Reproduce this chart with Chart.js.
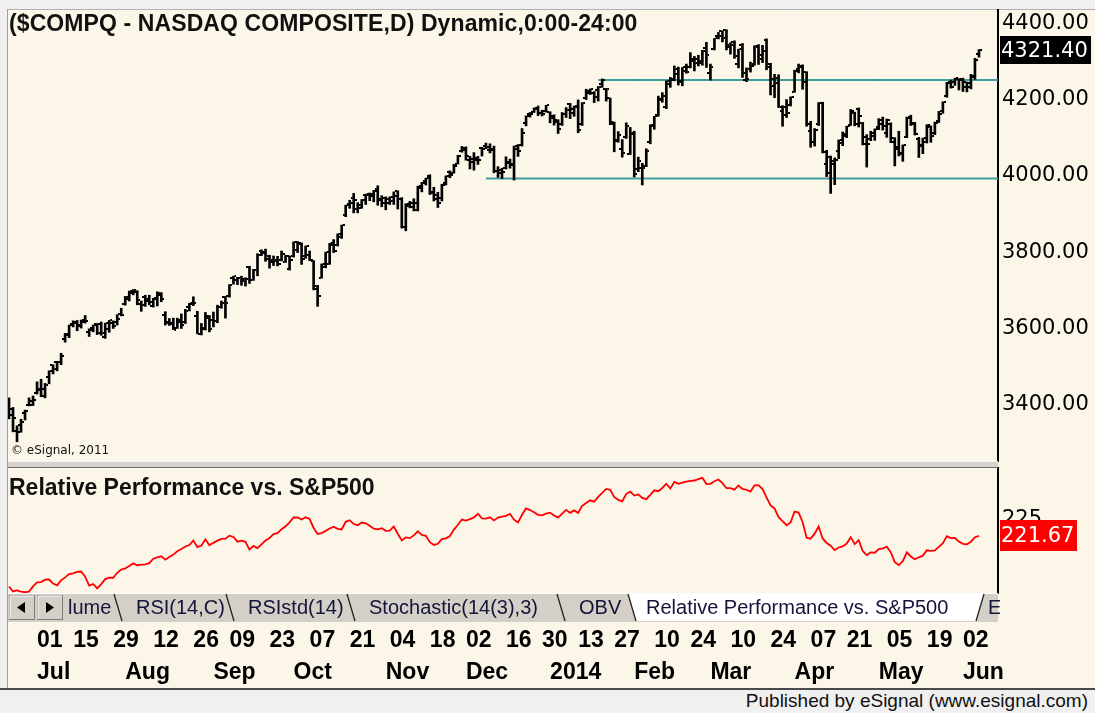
<!DOCTYPE html>
<html>
<head>
<meta charset="utf-8">
<title>$COMPQ - NASDAQ COMPOSITE</title>
<script src="https://cdn.jsdelivr.net/npm/chart.js@4.4.1/dist/chart.umd.min.js"></script>
<style>
  html, body { margin:0; padding:0; background:#f0f0f0; }
  #wrap { position:relative; width:1095px; height:713px; overflow:hidden; background:#f0f0f0; }
  .abs { position:absolute; }
  #cream { background:#fcf6e9; border-left:1px solid #a0a0a0; border-top:1px solid #b0b0b0; box-sizing:border-box; left:7px; top:9px; width:1088px; height:679px; }
  #title { left:9px; top:12px; font:bold 23px "Liberation Sans", Arial, sans-serif; color:#111; white-space:nowrap; line-height:23px; letter-spacing:0.1px; }
  #rptitle { left:9px; top:476px; font:bold 23px "Liberation Sans", Arial, sans-serif; color:#111; white-space:nowrap; line-height:23px; }
  #copy { left:11px; top:443px; font:12px "DejaVu Sans", sans-serif; color:#111; white-space:nowrap; }
  #sep { left:8px; top:461px; width:990px; height:5px; background:#d6d3ce; border-top:1px solid #f4f4f4; border-bottom:1px solid #6e6e6e; }
  #status { left:0; top:688px; width:1095px; height:25px; background:#f0f0f0; border-top:2px solid #4a4a4a; box-sizing:border-box; }
  #pub { right:7px; top:690px; font:19px "Liberation Sans Narrow", "Liberation Sans", Arial, sans-serif; color:#111; white-space:nowrap; }
</style>
</head>
<body>
<div id="wrap">
  <div id="cream" class="abs"></div>
  <canvas id="main" class="abs" style="left:0;top:0" width="1095" height="462"></canvas>
  <canvas id="rp" class="abs" style="left:0;top:462px" width="1095" height="226"></canvas>
  <div id="sep" class="abs"></div>
  <div id="title" class="abs">($COMPQ - NASDAQ COMPOSITE,D) Dynamic,0:00-24:00</div>
  <div id="copy" class="abs">© eSignal, 2011</div>
  <div id="rptitle" class="abs">Relative Performance vs. S&amp;P500</div>
  <svg class="abs" style="left:0;top:593px" width="1000" height="29" font-family="Liberation Sans, Arial, sans-serif" font-size="20">
    <rect x="8" y="0" width="990" height="29" fill="#d4d0c8"/>
    <line x1="8" y1="0.5" x2="998" y2="0.5" stroke="#ffffff"/>
    <rect x="9.5" y="2.5" width="25" height="24" fill="#d4d0c8" stroke="#7a7a7a"/>
    <polyline points="10,26 10,3 34,3" fill="none" stroke="#ffffff"/>
    <polygon points="17,14.5 25,9 25,20" fill="#000"/>
    <rect x="37.5" y="2.5" width="25" height="24" fill="#d4d0c8" stroke="#7a7a7a"/>
    <polyline points="38,26 38,3 62,3" fill="none" stroke="#ffffff"/>
    <polygon points="54,14.5 46,9 46,20" fill="#000"/>
    <polygon points="628,0 636,28 976,28 984,0" fill="#ffffff"/>
    <g stroke="#222" stroke-width="1.3">
      <line x1="114" y1="1" x2="122" y2="28"/>
      <line x1="226" y1="1" x2="234" y2="28"/>
      <line x1="347" y1="1" x2="355" y2="28"/>
      <line x1="557" y1="1" x2="565" y2="28"/>
      <line x1="628" y1="1" x2="636" y2="28"/>
      <line x1="976" y1="28" x2="984" y2="1"/>
    </g>
    <g fill="#14143a">
      <text x="68" y="21">lume</text>
      <text x="136" y="21">RSI(14,C)</text>
      <text x="248" y="21">RSIstd(14)</text>
      <text x="369" y="21">Stochastic(14(3),3)</text>
      <text x="579" y="21">OBV</text>
      <text x="646" y="21">Relative Performance vs. S&amp;P500</text>
      <text x="988" y="21">E</text>
    </g>
  </svg>
  <div id="status" class="abs"></div>
  <div id="pub" class="abs">Published by eSignal (www.esignal.com)</div>
</div>
<script>
// ---------------- DATA ----------------
const dates = [
"2013-06-20","2013-06-21","2013-06-24","2013-06-25","2013-06-26","2013-06-27","2013-06-28",
"2013-07-01","2013-07-02","2013-07-03","2013-07-05","2013-07-08","2013-07-09","2013-07-10","2013-07-11","2013-07-12","2013-07-15","2013-07-16","2013-07-17","2013-07-18","2013-07-19","2013-07-22","2013-07-23","2013-07-24","2013-07-25","2013-07-26","2013-07-29","2013-07-30","2013-07-31",
"2013-08-01","2013-08-02","2013-08-05","2013-08-06","2013-08-07","2013-08-08","2013-08-09","2013-08-12","2013-08-13","2013-08-14","2013-08-15","2013-08-16","2013-08-19","2013-08-20","2013-08-21","2013-08-22","2013-08-23","2013-08-26","2013-08-27","2013-08-28","2013-08-29","2013-08-30",
"2013-09-03","2013-09-04","2013-09-05","2013-09-06","2013-09-09","2013-09-10","2013-09-11","2013-09-12","2013-09-13","2013-09-16","2013-09-17","2013-09-18","2013-09-19","2013-09-20","2013-09-23","2013-09-24","2013-09-25","2013-09-26","2013-09-27","2013-09-30",
"2013-10-01","2013-10-02","2013-10-03","2013-10-04","2013-10-07","2013-10-08","2013-10-09","2013-10-10","2013-10-11","2013-10-14","2013-10-15","2013-10-16","2013-10-17","2013-10-18","2013-10-21","2013-10-22","2013-10-23","2013-10-24","2013-10-25","2013-10-28","2013-10-29","2013-10-30","2013-10-31",
"2013-11-01","2013-11-04","2013-11-05","2013-11-06","2013-11-07","2013-11-08","2013-11-11","2013-11-12","2013-11-13","2013-11-14","2013-11-15","2013-11-18","2013-11-19","2013-11-20","2013-11-21","2013-11-22","2013-11-25","2013-11-26","2013-11-27","2013-11-29",
"2013-12-02","2013-12-03","2013-12-04","2013-12-05","2013-12-06","2013-12-09","2013-12-10","2013-12-11","2013-12-12","2013-12-13","2013-12-16","2013-12-17","2013-12-18","2013-12-19","2013-12-20","2013-12-23","2013-12-24","2013-12-26","2013-12-27","2013-12-30","2013-12-31",
"2014-01-02","2014-01-03","2014-01-06","2014-01-07","2014-01-08","2014-01-09","2014-01-10","2014-01-13","2014-01-14","2014-01-15","2014-01-16","2014-01-17","2014-01-21","2014-01-22","2014-01-23","2014-01-24","2014-01-27","2014-01-28","2014-01-29","2014-01-30","2014-01-31",
"2014-02-03","2014-02-04","2014-02-05","2014-02-06","2014-02-07","2014-02-10","2014-02-11","2014-02-12","2014-02-13","2014-02-14","2014-02-18","2014-02-19","2014-02-20","2014-02-21","2014-02-24","2014-02-25","2014-02-26","2014-02-27","2014-02-28",
"2014-03-03","2014-03-04","2014-03-05","2014-03-06","2014-03-07","2014-03-10","2014-03-11","2014-03-12","2014-03-13","2014-03-14","2014-03-17","2014-03-18","2014-03-19","2014-03-20","2014-03-21","2014-03-24","2014-03-25","2014-03-26","2014-03-27","2014-03-28","2014-03-31",
"2014-04-01","2014-04-02","2014-04-03","2014-04-04","2014-04-07","2014-04-08","2014-04-09","2014-04-10","2014-04-11","2014-04-14","2014-04-15","2014-04-16","2014-04-17","2014-04-21","2014-04-22","2014-04-23","2014-04-24","2014-04-25","2014-04-28","2014-04-29","2014-04-30",
"2014-05-01","2014-05-02","2014-05-05","2014-05-06","2014-05-07","2014-05-08","2014-05-09","2014-05-12","2014-05-13","2014-05-14","2014-05-15","2014-05-16","2014-05-19","2014-05-20","2014-05-21","2014-05-22","2014-05-23","2014-05-27","2014-05-28","2014-05-29","2014-05-30",
"2014-06-02","2014-06-03","2014-06-04","2014-06-05","2014-06-06"
];

const open = [
3405,3381,3322,3339,3370,3391,3392,
3422,3430,3414,3464,3496,3503,3503,3565,3576,3604,3608,3600,3614,3583,3593,3604,3603,3570,3591,3605,3608,3630,
3656,3668,3685,3687,3655,3675,3665,3652,3673,3681,3628,3608,3606,3593,3610,3610,3649,3656,3625,3577,3590,3624,
3614,3611,3649,3674,3676,3723,3720,3723,3722,3753,3719,3746,3796,3792,3781,3771,3772,3772,3766,3748,
3781,3798,3813,3781,3784,3769,3703,3725,3752,3761,3812,3810,3832,3890,3918,3935,3904,3915,3942,3943,3944,3958,3928,
3935,3932,3926,3952,3931,3857,3914,3911,3902,3961,3978,3991,3948,3942,3934,3974,4001,4000,4024,4058,
4066,4034,4027,4034,4066,4069,4061,4062,4005,4008,4012,4026,4020,4062,4073,4130,4154,4160,4171,4158,4161,
4160,4148,4138,4128,4154,4180,4167,4172,4128,4196,4210,4209,4218,4232,4220,4196,4133,4085,4062,4094,4049,
4101,4011,4013,4018,4081,4122,4151,4194,4172,4232,4247,4258,4240,4276,4278,4298,4297,4287,4327,
4261,4324,4359,4371,4375,4331,4342,4286,4335,4242,4272,4284,4330,4297,4347,4285,4247,4248,4163,4172,4179,
4212,4273,4281,4263,4109,4082,4128,4184,4023,4042,4030,4058,4077,4102,4126,4158,4167,4131,4093,4089,4097,
4121,4138,4104,4129,4091,4063,4050,4093,4145,4129,4089,4072,4082,4121,4105,4137,4162,4201,4235,4238,4245,
4246,4226,4225,4254,4311
];

const high = [
3410,3385,3337,3354,3378,3410,3415,
3452,3459,3448,3481,3497,3506,3527,3579,3601,3612,3613,3614,3626,3591,3601,3605,3609,3606,3613,3612,3628,3645,
3676,3690,3694,3691,3664,3679,3679,3671,3688,3686,3636,3618,3619,3619,3630,3642,3658,3675,3637,3605,3634,3626,
3635,3653,3664,3676,3707,3729,3726,3729,3725,3755,3747,3788,3798,3800,3784,3782,3781,3795,3784,3782,
3819,3820,3816,3808,3795,3770,3705,3761,3792,3815,3825,3840,3863,3915,3928,3946,3922,3930,3944,3947,3954,3966,3940,
3937,3937,3950,3953,3935,3919,3925,3932,3965,3975,3986,3995,3962,3949,3970,3992,4005,4022,4046,4069,
4068,4043,4053,4043,4067,4078,4076,4070,4016,4012,4042,4036,4070,4074,4116,4149,4158,4170,4175,4164,4177,
4160,4152,4139,4158,4171,4182,4175,4191,4184,4219,4220,4213,4226,4246,4221,4196,4133,4108,4087,4131,4119,
4109,4041,4025,4063,4126,4148,4201,4210,4241,4250,4280,4277,4276,4285,4315,4305,4308,4321,4342,
4285,4352,4368,4372,4375,4341,4346,4324,4339,4275,4290,4333,4336,4334,4351,4287,4258,4257,4176,4192,4199,
4269,4285,4283,4265,4135,4116,4184,4185,4059,4044,4039,4086,4107,4122,4166,4159,4170,4132,4100,4109,4115,
4142,4146,4141,4131,4092,4109,4073,4146,4151,4132,4093,4091,4126,4123,4133,4161,4186,4237,4243,4248,4247,
4248,4238,4258,4300,4323
];

const low = [
3355,3321,3295,3320,3352,3389,3390,
3420,3413,3410,3447,3473,3481,3497,3556,3568,3596,3586,3593,3606,3571,3583,3576,3574,3566,3582,3592,3601,3625,
3653,3664,3680,3654,3637,3650,3654,3648,3651,3662,3601,3600,3589,3592,3592,3605,3638,3652,3578,3575,3588,3583,
3596,3607,3645,3619,3674,3708,3707,3705,3703,3710,3718,3730,3783,3768,3750,3757,3756,3769,3765,3745,
3779,3791,3760,3776,3770,3693,3650,3724,3751,3760,3791,3808,3828,3885,3907,3895,3895,3907,3917,3927,3924,3915,3911,
3903,3917,3917,3905,3855,3848,3908,3900,3900,3950,3968,3943,3926,3909,3926,3968,3987,3999,4023,4054,
4033,4010,4007,4022,4044,4063,4052,4000,3988,3985,4010,4012,3981,4043,4070,4123,4146,4158,4150,4149,4159,
4131,4125,4103,4124,4145,4142,4148,4105,4124,4192,4205,4184,4188,4224,4188,4126,4055,4080,4041,4090,4048,
3989,4003,3968,4016,4076,4114,4148,4185,4168,4224,4241,4230,4228,4261,4275,4267,4280,4282,4276,
4243,4322,4351,4343,4322,4311,4300,4275,4250,4239,4264,4282,4284,4289,4270,4204,4197,4171,4122,4145,4175,
4211,4262,4219,4122,4067,4070,4124,4052,3990,3946,3969,4037,4071,4092,4124,4123,4120,4073,4015,4084,4085,
4113,4112,4093,4079,4018,4044,4030,4092,4124,4099,4040,4050,4078,4080,4100,4132,4156,4198,4222,4229,4217,
4213,4212,4220,4245,4303
];

const close = [
3364.6,3357.3,3320.8,3347.9,3376.2,3401.9,3403.3,
3434.5,3433.4,3443.7,3479.4,3484.8,3504.3,3520.8,3578.3,3600.1,3607.5,3598.5,3610.0,3611.3,3587.6,3600.4,3579.3,3579.6,3605.2,3613.2,3599.1,3616.5,3626.4,
3675.7,3689.6,3693.0,3665.8,3654.0,3669.1,3660.1,3670.0,3684.4,3669.3,3606.1,3602.8,3589.1,3613.6,3599.8,3638.7,3657.8,3657.6,3578.5,3593.4,3620.3,3589.9,
3612.6,3649.0,3658.8,3660.0,3706.2,3729.0,3725.0,3716.0,3722.2,3717.9,3745.7,3783.6,3789.4,3774.7,3765.3,3768.3,3761.1,3787.4,3781.6,3771.5,
3818.0,3815.0,3774.3,3807.8,3770.4,3694.8,3677.8,3760.8,3791.9,3815.3,3794.0,3839.4,3863.2,3914.3,3920.1,3929.6,3907.1,3929.0,3943.4,3940.1,3952.3,3930.6,3919.7,
3922.0,3936.6,3939.9,3932.0,3857.3,3919.2,3919.8,3919.9,3965.6,3972.7,3986.0,3949.1,3931.6,3921.3,3969.2,3991.7,3994.6,4017.8,4044.8,4059.9,
4045.3,4037.2,4038.0,4033.2,4062.5,4068.8,4060.5,4003.8,3998.4,4001.0,4029.5,4023.7,4070.1,4058.1,4104.7,4148.9,4155.4,4167.2,4156.6,4154.2,4176.6,
4143.1,4131.9,4113.7,4153.2,4165.6,4156.2,4174.7,4113.3,4183.0,4214.9,4218.7,4197.6,4225.8,4243.0,4218.9,4128.2,4083.6,4098.0,4051.4,4123.1,4103.9,
3997.0,4031.5,4011.6,4057.1,4125.9,4148.2,4191.1,4201.3,4240.7,4244.0,4272.8,4238.0,4267.6,4263.4,4292.1,4287.6,4293.0,4318.9,4308.1,
4277.3,4352.0,4358.0,4352.1,4336.2,4334.5,4307.2,4323.3,4260.4,4245.4,4280.0,4333.3,4307.6,4319.3,4276.8,4226.4,4234.3,4173.6,4151.2,4155.8,4199.0,
4268.0,4276.5,4237.7,4127.7,4079.8,4113.0,4183.9,4054.1,3999.7,4022.7,4034.2,4086.2,4095.5,4121.6,4161.5,4127.0,4148.3,4075.6,4074.4,4103.5,4114.6,
4127.5,4123.9,4138.1,4080.8,4067.7,4051.5,4071.9,4143.9,4130.2,4100.6,4069.3,4090.6,4125.8,4096.9,4131.5,4154.3,4185.8,4237.1,4225.1,4248.0,4242.6,
4237.2,4234.1,4251.6,4296.2,4321.4
];

const relPerf = [
211.85,210.90,211.10,210.85,210.75,210.88,211.87,
212.67,212.72,213.18,213.21,212.43,212.08,213.04,213.63,214.27,214.41,214.67,214.76,213.77,212.02,212.35,211.49,212.32,213.29,213.59,213.55,214.51,215.13,
215.35,215.81,216.33,215.97,216.10,216.15,216.39,217.23,217.48,217.71,217.06,217.58,218.04,218.69,219.13,219.60,219.89,220.77,219.48,219.78,221.00,219.84,
220.31,220.74,221.06,221.13,221.70,221.44,220.53,220.74,220.51,219.01,219.72,219.27,220.02,220.76,221.25,222.00,222.19,222.96,223.53,224.29,
225.25,225.22,224.84,225.25,224.95,223.19,222.03,222.20,222.63,223.10,223.43,223.02,222.90,224.38,224.69,223.95,223.73,224.25,224.09,223.60,223.05,222.91,223.15,
222.64,222.67,223.48,222.08,220.78,221.35,221.22,221.75,222.54,221.86,221.67,220.43,219.90,220.13,221.02,221.18,221.62,222.87,223.81,224.82,
224.63,224.90,225.23,225.94,225.06,225.00,225.26,224.65,225.20,225.37,225.55,225.93,224.79,224.25,225.74,226.97,226.66,226.23,225.73,225.64,225.96,
226.16,225.62,225.19,225.98,226.70,226.11,226.59,226.11,227.47,228.03,228.55,228.29,229.19,229.99,230.74,230.59,229.21,228.62,228.35,229.80,230.22,
229.46,229.69,229.02,228.77,229.60,230.48,230.31,230.93,231.75,230.82,232.12,231.74,231.96,232.18,232.30,232.38,232.66,232.91,231.69,
231.74,232.24,232.57,231.86,230.89,230.91,230.62,231.42,230.75,230.59,230.25,231.45,231.49,230.73,229.13,227.54,226.97,225.29,224.51,223.72,224.27,
226.35,226.16,224.36,221.31,221.12,222.09,223.48,221.16,220.29,219.75,218.89,219.41,219.61,220.18,221.41,220.06,220.82,218.72,217.95,218.47,218.40,
219.12,219.22,219.57,218.49,216.57,216.01,216.77,218.48,217.67,217.13,217.51,217.83,218.87,218.75,218.83,219.52,220.24,221.62,221.23,221.25,220.56,
220.12,220.04,220.53,221.40,221.67
];

// horizontal support / resistance levels drawn on the price panel
const levelStarts = ["2014-01-21", "2013-12-09"];
const levelValues = [4243, 3985];

// x-axis tick labels
const dayTickDates = ["2013-07-01","2013-07-15","2013-07-29","2013-08-12","2013-08-26","2013-09-09","2013-09-23","2013-10-07","2013-10-21","2013-11-04","2013-11-18","2013-12-02","2013-12-16","2013-12-30","2014-01-13","2014-01-27","2014-02-10","2014-02-24","2014-03-10","2014-03-24","2014-04-07","2014-04-21","2014-05-05","2014-05-19","2014-06-02"];
const dayTickLabels = ["01","15","29","12","26","09","23","07","21","04","18","02","16","30","13","27","10","24","10","24","07","21","05","19","02"];
const monthTickDates = ["2013-07-01","2013-08-01","2013-09-03","2013-10-01","2013-11-01","2013-12-02","2014-01-02","2014-02-03","2014-03-03","2014-04-01","2014-05-01","2014-06-02"];
const monthTickLabels = ["Jul","Aug","Sep","Oct","Nov","Dec","2014","Feb","Mar","Apr","May","Jun"];

// y-axis ticks
const priceStep = 100;
const priceLabelEvery = 200;
const rpTickValues = [225];

// ---------------- BUILD ----------------
const X_MIN = -0.25, X_MAX = 246.75;
const idxOf = d => dates.indexOf(d);

const tickMap = new Map();
dayTickDates.forEach((d, k) => { const i = idxOf(d); tickMap.set(i, [dayTickLabels[k], ""]); });
const monthIdx = new Set();
monthTickDates.forEach((d, k) => {
  const i = idxOf(d); monthIdx.add(i);
  const cur = tickMap.get(i) || ["", ""];
  cur[1] = monthTickLabels[k]; tickMap.set(i, cur);
});
const tickIdx = Array.from(tickMap.keys()).sort((a, b) => a - b);

const GRID = "#ffffff";
const NONE = "rgba(0,0,0,0)";

function tickCanvas(side) {
  const c = document.createElement("canvas");
  c.width = 6; c.height = 2;
  const g = c.getContext("2d");
  g.fillStyle = "#000";
  g.fillRect(side === "L" ? 0 : 4, 0, 2, 2);
  return c;
}

// no automatic padding around scales: the plot areas are fixed by the layout padding
const noPad = s => { s.paddingTop = 0; s.paddingBottom = 0; s.paddingLeft = 0; s.paddingRight = 0; };

const valueBox = {
  id: "valueBox",
  afterDraw(chart, args, o) {
    if (!o || o.value == null) return;
    const ys = chart.scales.y, ca = chart.chartArea, ctx = chart.ctx;
    const y = ys.getPixelForValue(o.value);
    ctx.save();
    ctx.fillStyle = o.bg;
    ctx.fillRect(ca.right + 2, Math.round(y - o.h / 2), o.w, o.h);
    ctx.font = o.font;
    ctx.fillStyle = o.color;
    ctx.textBaseline = "middle";
    ctx.textAlign = "left";
    ctx.fillText(o.text, ca.right + 3, y + 1);
    ctx.restore();
  }
};

const xGridColor = ctx => (ctx.tick && monthIdx.has(ctx.tick.value)) ? GRID : NONE;

const rangePts = dates.map((d, i) => ({ x: i, y: [low[i], high[i]] }));
const openPts = dates.map((d, i) => ({ x: i, y: open[i] }));
const closePts = dates.map((d, i) => ({ x: i, y: close[i] }));
const levelSets = levelValues.map((v, k) => ({
  type: "line",
  data: [{ x: idxOf(levelStarts[k]), y: v }, { x: X_MAX, y: v }],
  borderColor: "#3f9f9d", borderWidth: 2, pointRadius: 0, order: 5
}));

const yFont = { family: "'DejaVu Sans', Verdana, sans-serif", size: 21 };

new Chart(document.getElementById("main"), {
  type: "bar",
  data: {
    datasets: [
      { type: "line", data: openPts, showLine: false, pointStyle: tickCanvas("L"), pointRadius: 1, pointHoverRadius: 1, order: 1 },
      { type: "line", data: closePts, showLine: false, pointStyle: tickCanvas("R"), pointRadius: 1, pointHoverRadius: 1, order: 1 },
      { type: "bar", data: rangePts, backgroundColor: "#000", barThickness: 2, grouped: false, order: 2 },
      ...levelSets
    ]
  },
  options: {
    responsive: false, animation: false, events: [],
    layout: { autoPadding: false, padding: { left: 8, top: 10, right: 0, bottom: 1 } },
    plugins: {
      legend: { display: false }, tooltip: { enabled: false },
      valueBox: { value: close[close.length - 1], text: close[close.length - 1].toFixed(2), bg: "#000", color: "#fff", w: 91, h: 28, font: "21px 'DejaVu Sans', Verdana, sans-serif" }
    },
    scales: {
      x: {
        type: "linear", min: X_MIN, max: X_MAX, offset: false,
        afterBuildTicks: s => { s.ticks = tickIdx.map(v => ({ value: v })); },
        ticks: { display: false },
        grid: { color: xGridColor, lineWidth: 1, drawTicks: false, offset: false },
        border: { display: false, dash: [1, 2] },
        afterFit: s => { s.height = 0; noPad(s); }
      },
      y: {
        position: "right", min: 3244.6, max: 4426.7,
        ticks: {
          stepSize: priceStep, includeBounds: false, padding: 4, labelOffset: 3, color: "#000", font: yFont, autoSkip: false,
          callback: v => (v % priceLabelEvery === 0) ? v.toFixed(2) : ""
        },
        grid: { color: GRID, lineWidth: 1, drawTicks: false },
        border: { display: true, color: "#000", width: 2, dash: ctx => (ctx.tick && ctx.tick.value % priceLabelEvery !== 0) ? [1, 19] : [1, 2] },
        afterFit: s => { s.width = 97; noPad(s); }
      }
    }
  },
  plugins: [valueBox]
});

new Chart(document.getElementById("rp"), {
  type: "line",
  data: {
    datasets: [
      { data: relPerf.map((v, i) => ({ x: i, y: v })), borderColor: "#ff0000", borderWidth: 1.8, pointRadius: 0, tension: 0 }
    ]
  },
  options: {
    responsive: false, animation: false, events: [],
    layout: { autoPadding: false, padding: { left: 8, top: 6, right: 0, bottom: 0 } },
    plugins: {
      legend: { display: false }, tooltip: { enabled: false },
      valueBox: { value: relPerf[relPerf.length - 1], text: relPerf[relPerf.length - 1].toFixed(2), bg: "#ff0000", color: "#fff", w: 77, h: 31, font: "21px 'DejaVu Sans', Verdana, sans-serif" }
    },
    scales: {
      x: {
        type: "linear", min: X_MIN, max: X_MAX, offset: false,
        afterBuildTicks: s => { s.ticks = tickIdx.map(v => ({ value: v })); },
        ticks: {
          autoSkip: false, maxRotation: 0, minRotation: 0, align: "start", padding: 32, color: "#000",
          font: { family: "'Liberation Sans', Arial, sans-serif", size: 23, weight: "bold", lineHeight: 1.39 },
          callback: v => tickMap.get(v) || ""
        },
        grid: { color: xGridColor, lineWidth: 1, drawTicks: false, offset: false },
        border: { display: false, dash: [1, 2] },
        afterFit: s => { s.height = 95; noPad(s); }
      },
      y: {
        position: "right", min: 210.6, max: 234.8,
        afterBuildTicks: s => { s.ticks = rpTickValues.map(v => ({ value: v })); },
        ticks: { padding: 4, labelOffset: 1, color: "#000", font: yFont, callback: v => String(v) },
        grid: { color: GRID, lineWidth: 1, drawTicks: false },
        border: { display: true, color: "#000", width: 2, dash: [1, 2] },
        afterFit: s => { s.width = 97; noPad(s); }
      }
    }
  },
  plugins: [valueBox]
});
</script>
</body>
</html>
